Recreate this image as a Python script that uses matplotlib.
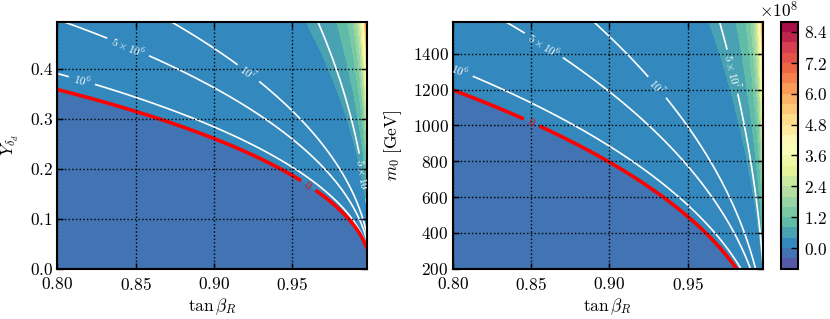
import numpy as np
import matplotlib
matplotlib.use("Agg")
import matplotlib.pyplot as plt
from matplotlib.ticker import ScalarFormatter

plt.rcParams['font.family'] = 'serif'
plt.rcParams['font.serif'] = ['cmr10', 'DejaVu Serif']
plt.rcParams['mathtext.fontset'] = 'cm'
plt.rcParams['axes.formatter.use_mathtext'] = True
plt.rcParams['font.size'] = 12.5

# axis ranges
tanb_range = (0.80, 0.9977)
yd_range = (0.0, 0.494)
m0_range = (200.0, 1580.0)

# zero contour (red)
zero_tanb_left = [0.80, 0.85, 0.90, 0.95]
zero_yd_left = [0.357, 0.315, 0.262, 0.186]
# zero contour (red)
zero_tanb_right = [0.80, 0.843, 0.90, 0.935, 0.95, 0.965, 0.98]
zero_m0_right = [1208, 1041, 789, 584, 491, 379, 211]
# scale of the field, from where the white contours sit
scale_left = 1.5e7
scale_right = 0.95

# contour levels
line_levels = [1e6, 5e6, 1e7, 5e7]
line_labels = [r'$10^6$', r'$5\times10^6$', r'$10^7$', r'$5\times10^7$']
fill_levels = np.arange(-0.8e8, 8.81e8, 0.4e8)
cbar_ticks = np.arange(0, 8.5e8, 1.2e8)

# where the inline labels sit
label_pos_left = [(0.816, 0.379), (0.846, 0.449), (0.923, 0.395), (0.995, 0.185)]
zero_label_left = [(0.960, 0.165)]
label_pos_right = [(0.806, 1330), (0.859, 1460), (0.931, 1218), (0.978, 1300)]
zero_label_right = [(0.850, 1009)]


def fit_fields():
    '''fit the zero-contour shapes: Y = s*sqrt(1-t^2), m0 + a = s*sqrt(1-t^2)'''
    tl = np.array(zero_tanb_left)
    yl = np.array(zero_yd_left)
    sl = np.sum(yl * np.sqrt(1 - tl**2)) / np.sum(1 - tl**2)
    tr = np.array(zero_tanb_right)
    sr, br = np.polyfit(np.sqrt(1 - tr**2), np.array(zero_m0_right), 1)
    return sl, sr, -br


def style_axes(ax):
    ax.grid(True, color='k', linestyle=':', linewidth=1.0)
    ax.set_axisbelow(False)
    ax.tick_params(direction='in', top=True, right=True, length=4, width=1)
    ax.tick_params(axis='x', pad=5.5)
    ax.tick_params(axis='y', pad=3)
    for sp in ax.spines.values():
        sp.set_linewidth(1.5)


def main():
    sl, sr, ma = fit_fields()

    t = np.linspace(tanb_range[0], tanb_range[1], 600)
    yd = np.linspace(yd_range[0], yd_range[1], 400)
    m0 = np.linspace(m0_range[0], m0_range[1], 400)

    T1, Y1 = np.meshgrid(t, yd)
    F1 = scale_left * (Y1**2 / (1 - T1**2) - sl**2)
    T2, M2 = np.meshgrid(t, m0)
    F2 = scale_right * ((M2 + ma)**2 / (1 - T2**2) - sr**2)

    fig = plt.figure(figsize=(8.3, 3.19), dpi=100)
    ax1 = fig.add_axes([0.069, 0.158, 0.373, 0.774])
    ax2 = fig.add_axes([0.5454, 0.158, 0.3735, 0.774])
    cax = fig.add_axes([0.941, 0.158, 0.0205, 0.774])

    fmt = dict(zip(line_levels, line_labels))

    panels = [
        (ax1, T1, Y1, F1, label_pos_left, zero_label_left),
        (ax2, T2, M2, F2, label_pos_right, zero_label_right),
    ]
    for ax, X, Y, F, lpos, zpos in panels:
        cf = ax.contourf(X, Y, F, levels=fill_levels, cmap='Spectral_r')
        cs = ax.contour(X, Y, F, levels=line_levels, colors='white', linewidths=1.2)
        ax.clabel(cs, fmt=fmt, fontsize=8, manual=lpos, inline=True)
        cz = ax.contour(X, Y, F, levels=[0], colors='red', linewidths=2.6)
        ax.clabel(cz, fmt={0: r'$0$'}, fontsize=8, manual=zpos, inline=True)
        style_axes(ax)
        ax.set_xlim(tanb_range)
        ax.set_xticks([0.80, 0.85, 0.90, 0.95])
        ax.set_xlabel(r'$\tan\beta_R$', labelpad=2)

    ax1.set_ylim(yd_range)
    ax1.set_yticks([0.0, 0.1, 0.2, 0.3, 0.4])
    ax1.set_ylabel(r'$Y_{\delta_d}$', labelpad=6)
    ax2.set_ylim(m0_range)
    ax2.set_yticks(np.arange(200, 1401, 200))
    ax2.set_ylabel(r'$m_0\ [\mathrm{GeV}]$', labelpad=6)

    cb = fig.colorbar(cf, cax=cax, ticks=cbar_ticks)
    fm = ScalarFormatter(useMathText=True)
    fm.set_powerlimits((0, 0))
    cb.formatter = fm
    cb.update_ticks()
    cb.outline.set_linewidth(1.5)
    cax.tick_params(direction='in', length=5, width=1, pad=4)

    fig.savefig("out.png", dpi=100)


if __name__ == "__main__":
    main()
